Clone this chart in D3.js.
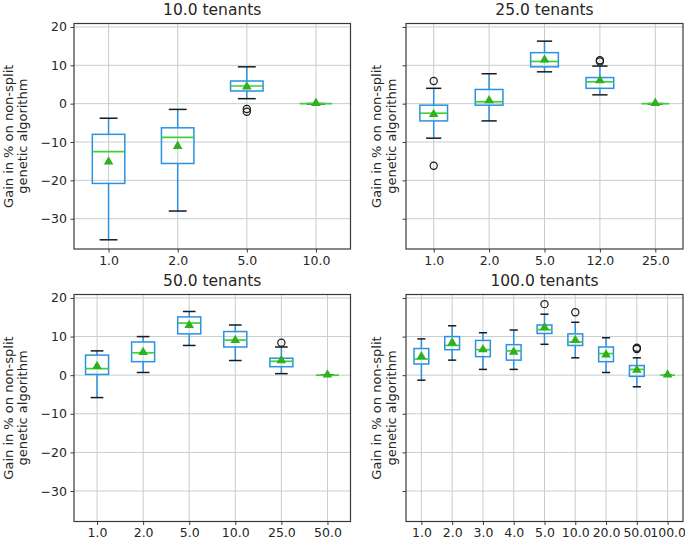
<!DOCTYPE html>
<html>
<head>
<meta charset="utf-8">
<script src="https://cdn.jsdelivr.net/npm/d3@7"></script>
<style>
  body { margin: 0; background: #fff; }
  text { font-family: "DejaVu Sans", sans-serif; fill: #262626; }
</style>
</head>
<body>
<svg id="chart" width="685" height="541"></svg>
<script>
const titles = ["10.0 tenants", "25.0 tenants", "50.0 tenants", "100.0 tenants"];
const yTicks = [-30, -20, -10, 0, 10, 20];
const yExtent = [-37.9, 20.9];
const yLabel = ["Gain in % on non-split", "genetic algorithm"];

// categories (number of splits) per panel
const cats10 = ["1.0", "2.0", "5.0", "10.0"];
const cats25 = ["1.0", "2.0", "5.0", "12.0", "25.0"];
const cats50 = ["1.0", "2.0", "5.0", "10.0", "25.0", "50.0"];
const cats100 = ["1.0", "2.0", "3.0", "4.0", "5.0", "10.0", "20.0", "50.0", "100.0"];

// [whisker low, q1, median, q3, whisker high]
const box10 = [[-35.5, -20.8, -12.5, -8.0, -3.8], [-28.0, -15.6, -8.8, -6.3, -1.5],
               [1.3, 3.3, 4.6, 5.9, 9.6], [0, 0, 0, 0, 0]];
const box25 = [[-9.0, -4.5, -2.5, -0.4, 4.0], [-4.5, -0.4, 0.5, 3.7, 7.8],
               [8.3, 9.6, 11.0, 13.3, 16.3], [2.3, 4.0, 5.7, 6.8, 9.8], [0, 0, 0, 0, 0]];
const box50 = [[-5.8, 0.2, 1.7, 5.2, 6.3], [0.7, 3.5, 5.8, 8.6, 10.0],
               [7.7, 10.7, 13.5, 15.1, 16.5], [3.8, 7.3, 9.1, 11.3, 13.0],
               [0.4, 2.2, 3.6, 4.4, 7.3], [0, 0, 0, 0, 0]];
const box100 = [[-1.3, 2.9, 4.2, 6.9, 9.4], [3.9, 6.6, 7.7, 10.0, 12.8],
                [1.5, 4.8, 6.6, 9.0, 11.0], [1.5, 3.9, 6.3, 7.9, 11.7],
                [8.0, 10.8, 11.8, 13.0, 15.8], [4.5, 7.7, 8.6, 10.7, 13.7],
                [0.7, 3.5, 5.6, 7.3, 9.7], [-3.0, -0.3, 1.5, 2.5, 4.5], [0, 0, 0, 0, 0]];

const mean10 = [-15.3, -11.2, 4.3, 0];
const mean25 = [-2.9, 0.7, 11.3, 5.9, 0];
const mean50 = [2.2, 5.8, 12.8, 8.9, 3.7, 0];
const mean100 = [4.7, 8.3, 6.5, 5.9, 12.2, 8.9, 5.2, 1.2, 0];

const fliers10 = [[], [], [-1.4, -2.1], []];
const fliers25 = [[5.9, -16.2], [], [], [11.3, 11.0], []];
const fliers50 = [[], [], [], [], [8.4], []];
const fliers100 = [[], [], [], [], [18.4], [16.3], [], [7.1, 6.8], []];

const boxColor = "#2a91e3", medianColor = "#3fcf3a", meanColor = "#2fb01f",
      capColor = "#1a1a1a", gridColor = "#c6cdcd", frameColor = "#3a3a3a";

const svg = d3.select("#chart");

function drawPanel(opt) {
    const g = svg.append("g");
    const x = d3.scalePoint().domain(opt.cats).range([opt.x0, opt.x1]).padding(0.5);
    const y = d3.scaleLinear().domain(yExtent).range([opt.y1, opt.y0]);
    const bw = x.step() * opt.width, cw = bw * 0.55;

    // grid
    g.selectAll(".gy").data(yTicks).join("line")
        .attr("x1", opt.x0).attr("x2", opt.x1)
        .attr("y1", d => y(d)).attr("y2", d => y(d))
        .attr("stroke", gridColor).attr("stroke-width", 1);
    g.selectAll(".gx").data(opt.cats).join("line")
        .attr("x1", d => x(d)).attr("x2", d => x(d))
        .attr("y1", opt.y0).attr("y2", opt.y1)
        .attr("stroke", gridColor).attr("stroke-width", 1);

    // axes
    const xa = g.append("g").attr("transform", `translate(0,${opt.y1})`)
        .call(d3.axisBottom(x).tickSize(3.5).tickPadding(3.5));
    const ya = g.append("g").attr("transform", `translate(${opt.x0},0)`)
        .call(d3.axisLeft(y).tickValues(yTicks).tickSize(3.5).tickPadding(3.5)
            .tickFormat(opt.yLabels ? d3.format("d") : ""));
    [xa, ya].forEach(a => {
        a.select(".domain").remove();
        a.selectAll("line").attr("stroke", frameColor).attr("stroke-width", 1);
        a.selectAll("text").style("font-size", "12.5px").attr("fill", "#262626");
    });

    const rows = opt.cats.map((c, i) => ({c: c, b: opt.boxes[i], m: opt.means[i], f: opt.fliers[i]}));
    const bx = g.selectAll(".box").data(rows).join("g").attr("class", "box");

    // whiskers
    bx.append("line").attr("x1", d => x(d.c)).attr("x2", d => x(d.c))
        .attr("y1", d => y(d.b[0])).attr("y2", d => y(d.b[1]))
        .attr("stroke", boxColor).attr("stroke-width", 1.5);
    bx.append("line").attr("x1", d => x(d.c)).attr("x2", d => x(d.c))
        .attr("y1", d => y(d.b[3])).attr("y2", d => y(d.b[4]))
        .attr("stroke", boxColor).attr("stroke-width", 1.5);
    // caps
    [0, 4].forEach(k => {
        bx.append("line").attr("x1", d => x(d.c) - cw / 2).attr("x2", d => x(d.c) + cw / 2)
            .attr("y1", d => y(d.b[k])).attr("y2", d => y(d.b[k]))
            .attr("stroke", capColor).attr("stroke-width", 1.5);
    });
    // box
    bx.append("rect").attr("x", d => x(d.c) - bw / 2).attr("width", bw)
        .attr("y", d => y(d.b[3])).attr("height", d => y(d.b[1]) - y(d.b[3]))
        .attr("fill", "none").attr("stroke", boxColor).attr("stroke-width", 1.5);
    // median
    bx.append("line").attr("x1", d => x(d.c) - bw / 2).attr("x2", d => x(d.c) + bw / 2)
        .attr("y1", d => y(d.b[2])).attr("y2", d => y(d.b[2]))
        .attr("stroke", medianColor).attr("stroke-width", 1.7);
    // fliers
    bx.selectAll(".flier").data(d => d.f.map(v => ({c: d.c, v: v}))).join("circle")
        .attr("cx", d => x(d.c)).attr("cy", d => y(d.v)).attr("r", 3.6)
        .attr("fill", "none").attr("stroke", capColor).attr("stroke-width", 1.2);
    // mean
    bx.append("path").attr("d", d3.symbol(d3.symbolTriangle, 40))
        .attr("transform", d => `translate(${x(d.c)},${y(d.m) - 0.5})`)
        .attr("fill", meanColor);

    // frame
    g.append("rect").attr("x", opt.x0).attr("y", opt.y0)
        .attr("width", opt.x1 - opt.x0).attr("height", opt.y1 - opt.y0)
        .attr("fill", "none").attr("stroke", frameColor).attr("stroke-width", 1.2);

    // title
    g.append("text").attr("x", (opt.x0 + opt.x1) / 2).attr("y", opt.y0 - 9)
        .attr("text-anchor", "middle").style("font-size", "15.5px").text(opt.title);

    // y label
    const yl = g.append("text")
        .attr("transform", `translate(${opt.labelX},${(opt.y0 + opt.y1) / 2}) rotate(-90)`)
        .attr("text-anchor", "middle").style("font-size", "13px");
    yl.append("tspan").attr("x", 0).attr("dy", 0).text(yLabel[0]);
    yl.append("tspan").attr("x", 0).attr("dy", 14.5).text(yLabel[1]);
}

drawPanel({title: titles[0], cats: cats10, boxes: box10, means: mean10, fliers: fliers10,
    x0: 74, x1: 350.5, y0: 23.5, y1: 249, width: 0.47, yLabels: true, labelX: 12.5});
drawPanel({title: titles[1], cats: cats25, boxes: box25, means: mean25, fliers: fliers25,
    x0: 406, x1: 683, y0: 23.5, y1: 249, width: 0.5, yLabels: false, labelX: 381});
drawPanel({title: titles[2], cats: cats50, boxes: box50, means: mean50, fliers: fliers50,
    x0: 74, x1: 350.5, y0: 294.5, y1: 521.5, width: 0.5, yLabels: true, labelX: 12.5});
drawPanel({title: titles[3], cats: cats100, boxes: box100, means: mean100, fliers: fliers100,
    x0: 406, x1: 683, y0: 294.5, y1: 521.5, width: 0.48, yLabels: false, labelX: 381});
</script>
</body>
</html>
